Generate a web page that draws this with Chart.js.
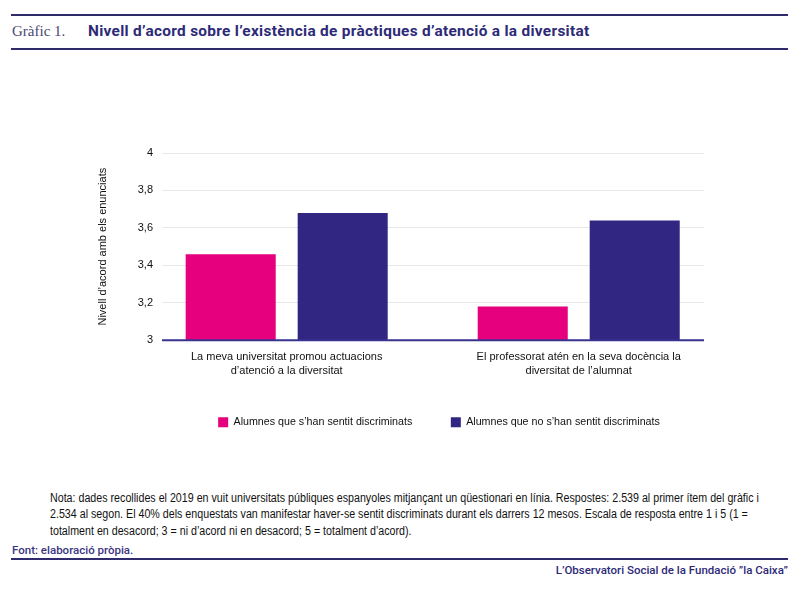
<!DOCTYPE html>
<html>
<head>
<meta charset="utf-8">
<script src="https://cdn.jsdelivr.net/npm/chart.js@4.4.1/dist/chart.umd.min.js"></script>
<style>
  html, body { margin: 0; padding: 0; background: #fff; }
  body { width: 800px; height: 591px; position: relative; overflow: hidden; font-family: "Liberation Sans", Arial, sans-serif; }
  .hline { position: absolute; left: 11px; width: 777px; height: 2px; background: #2f2a6b; }
  #hdr { position: absolute; top: 21px; left: 12px; height: 20px; line-height: 20px; white-space: nowrap; }
  #hdr .num { font-family: "Liberation Serif", "Times New Roman", serif; font-size: 15px; color: #4a4870; }
  #hdr .ttl { position: absolute; left: 76px; top: 0; font-family: Roboto, "Liberation Sans", sans-serif; font-weight: 700; font-size: 15.4px; color: #2d2a78; letter-spacing: 0.3px; }
  #wrap { position: absolute; left: 0; top: 60px; width: 800px; height: 430px; }
  #note { position: absolute; left: 50px; top: 490px; width: 900px; font-family: "Liberation Sans", Arial, sans-serif; font-size: 12px; line-height: 16.3px; color: #111; transform: scaleX(0.89); transform-origin: 0 0; white-space: nowrap; }
  #font { position: absolute; left: 12px; top: 543px; font-family: Roboto, "Liberation Sans", sans-serif; font-weight: 500; font-size: 11.5px; color: #3b3582; }
  #org { position: absolute; right: 12px; top: 563px; font-family: Roboto, "Liberation Sans", sans-serif; font-weight: 500; font-size: 11.5px; color: #2d2a78; }
</style>
</head>
<body>
<div class="hline" style="top:14px"></div>
<div id="hdr"><span class="num">Gràfic 1.</span><span class="ttl">Nivell d’acord sobre l’existència de pràctiques d’atenció a la diversitat</span></div>
<div class="hline" style="top:48px"></div>
<div id="wrap"><canvas id="c"></canvas></div>
<div id="note">Nota: dades recollides el 2019 en vuit universitats públiques espanyoles mitjançant un qüestionari en línia. Respostes: 2.539 al primer ítem del gràfic i<br>2.534 al segon. El 40% dels enquestats van manifestar haver-se sentit discriminats durant els darrers 12 mesos. Escala de resposta entre 1 i 5 (1 =<br>totalment en desacord; 3 = ni d’acord ni en desacord; 5 = totalment d’acord).</div>
<div id="font">Font: elaboració pròpia.</div>
<div class="hline" style="top:558px"></div>
<div id="org">L’Observatori Social de la Fundació ”la Caixa”</div>
<script>
const categories = [
  ["La meva universitat promou actuacions", "d’atenció a la diversitat"],
  ["El professorat atén en la seva docència la", "diversitat de l’alumnat"]
];
const seriesNames = ["Alumnes que s’han sentit discriminats", "Alumnes que no s’han sentit discriminats"];
const discriminats = [3.46, 3.18];
const noDiscriminats = [3.68, 3.64];
const yTicks = [3, 3.2, 3.4, 3.6, 3.8, 4];
const yTitle = "Nivell d’acord amb els enunciats";

const PINK = "#e6007e";
const NAVY = "#312783";
const FONT = "'Liberation Sans', Arial, sans-serif";

const baselinePlugin = {
  id: "baseline",
  afterDatasetsDraw(chart) {
    const { ctx, chartArea, scales } = chart;
    const y = scales.y.getPixelForValue(scales.y.min);
    ctx.save();
    ctx.strokeStyle = "#3a3290";
    ctx.lineWidth = 2;
    ctx.beginPath();
    ctx.moveTo(chartArea.left, y);
    ctx.lineTo(chartArea.right, y);
    ctx.stroke();
    ctx.restore();
  }
};

const toPoints = arr => arr.map((v, i) => ({ x: i, y: v }));

new Chart(document.getElementById("c"), {
  type: "bar",
  data: {
    datasets: [
      { label: seriesNames[0], data: toPoints(discriminats), backgroundColor: PINK },
      { label: seriesNames[1], data: toPoints(noDiscriminats), backgroundColor: NAVY }
    ]
  },
  options: {
    responsive: true,
    maintainAspectRatio: false,
    animation: false,
    categoryPercentage: 0.767,
    barPercentage: 0.804,
    layout: { padding: { left: 88, right: 10, top: 93, bottom: 52.5 } },
    plugins: {
      legend: {
        position: "bottom",
        labels: {
          boxWidth: 10, boxHeight: 10, padding: 38.5,
          color: "#111",
          font: { family: FONT, size: 10.7 }
        }
      },
      tooltip: { enabled: false }
    },
    scales: {
      x: {
        type: "linear",
        min: -0.427, max: 1.429,
        offset: false,
        afterBuildTicks(scale) { scale.ticks = categories.map((c, i) => ({ value: i })); },
        grid: { display: false, drawTicks: false },
        border: { display: false },
        ticks: {
          color: "#111", padding: 9, maxRotation: 0, autoSkip: false,
          font: { family: FONT, size: 11, lineHeight: 1.33 },
          callback: v => categories[v]
        },
        afterFit(scale) { scale.height = 38; }
      },
      y: {
        min: 3, max: 4,
        afterBuildTicks(scale) { scale.ticks = yTicks.map(v => ({ value: v })); },
        grid: {
          drawTicks: false,
          color: ctx => (ctx.tick && ctx.tick.value === 3) ? "rgba(0,0,0,0)" : "#e8e8e8",
          lineWidth: 1
        },
        border: { display: false },
        ticks: {
          color: "#111", padding: 9, autoSkip: false,
          font: { family: FONT, size: 11 },
          callback: v => String(Math.round(v * 10) / 10).replace(".", ",")
        },
        title: {
          display: true, text: yTitle, color: "#111",
          padding: { top: 8, bottom: 0 },
          font: { family: FONT, size: 11 }
        },
        afterFit(scale) { scale.width = 74; }
      },
      spacer: {
        type: "linear",
        position: "right",
        display: true,
        grid: { display: false, drawTicks: false },
        border: { display: false },
        ticks: { display: false },
        afterFit(scale) { scale.width = 86; }
      }
    }
  },
  plugins: [baselinePlugin]
});
</script>
</body>
</html>
